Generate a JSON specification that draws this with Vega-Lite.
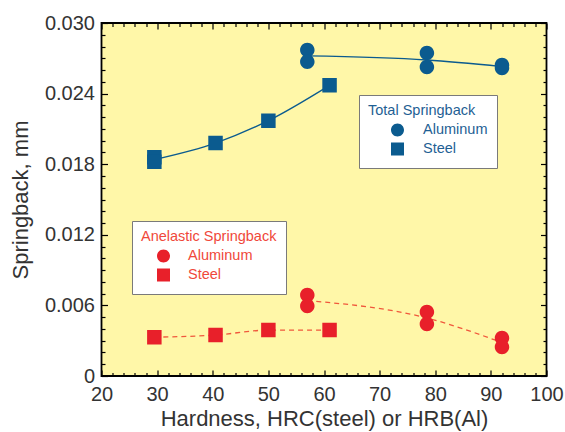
{
  "$schema": "https://vega.github.io/schema/vega-lite/v6.json",
  "width": 445,
  "height": 353,
  "autosize": {"type": "none"},
  "padding": {"left": 101.5, "top": 23, "right": 18.5, "bottom": 56},
  "background": "white",
  "config": {
    "font": "Liberation Sans",
    "view": {"fill": "#FFF7A8", "stroke": "black", "strokeWidth": 1.8},
    "axis": {
      "domain": false,
      "grid": false,
      "labelFont": "Liberation Sans",
      "labelFontSize": 20,
      "labelColor": "#333333",
      "titleFont": "Liberation Sans",
      "titleFontSize": 22,
      "titleFontWeight": "normal",
      "titleColor": "#333333",
      "tickColor": "black",
      "tickWidth": 1.2,
      "labelOverlap": false,
      "labelFlush": false
    }
  },
  "data": {
    "values": [
      {"type": "Total", "material": "Steel", "hardness": 29.5, "springback": 0.0186},
      {"type": "Total", "material": "Steel", "hardness": 29.5, "springback": 0.0182},
      {"type": "Total", "material": "Steel", "hardness": 40.5, "springback": 0.0198},
      {"type": "Total", "material": "Steel", "hardness": 50, "springback": 0.0217},
      {"type": "Total", "material": "Steel", "hardness": 61, "springback": 0.0247},
      {"type": "Total", "material": "Aluminum", "hardness": 57, "springback": 0.0277},
      {"type": "Total", "material": "Aluminum", "hardness": 57, "springback": 0.0267},
      {"type": "Total", "material": "Aluminum", "hardness": 78.5, "springback": 0.02745},
      {"type": "Total", "material": "Aluminum", "hardness": 78.5, "springback": 0.02626},
      {"type": "Total", "material": "Aluminum", "hardness": 92, "springback": 0.02643},
      {"type": "Total", "material": "Aluminum", "hardness": 92, "springback": 0.02617},
      {"type": "Anelastic", "material": "Steel", "hardness": 29.5, "springback": 0.0033},
      {"type": "Anelastic", "material": "Steel", "hardness": 40.5, "springback": 0.00348},
      {"type": "Anelastic", "material": "Steel", "hardness": 50, "springback": 0.0039},
      {"type": "Anelastic", "material": "Steel", "hardness": 61, "springback": 0.0039},
      {"type": "Anelastic", "material": "Aluminum", "hardness": 57, "springback": 0.00688},
      {"type": "Anelastic", "material": "Aluminum", "hardness": 57, "springback": 0.00595},
      {"type": "Anelastic", "material": "Aluminum", "hardness": 78.5, "springback": 0.00544},
      {"type": "Anelastic", "material": "Aluminum", "hardness": 78.5, "springback": 0.00442},
      {"type": "Anelastic", "material": "Aluminum", "hardness": 92, "springback": 0.00323},
      {"type": "Anelastic", "material": "Aluminum", "hardness": 92, "springback": 0.00246}
    ]
  },
  "layer": [
    {
      "transform": [{"filter": "datum.type === 'Total'"}],
      "mark": {"type": "line", "color": "#0b5b8f", "strokeWidth": 1.3, "interpolate": "monotone"},
      "encoding": {
        "x": {
          "field": "hardness", "type": "quantitative",
          "scale": {"domain": [20, 100], "nice": false, "zero": false},
          "axis": {
            "orient": "bottom",
            "values": [20,22,24,26,28,30,32,34,36,38,40,42,44,46,48,50,52,54,56,58,60,62,64,66,68,70,72,74,76,78,80,82,84,86,88,90,92,94,96,98,100],
            "format": "d",
            "labelExpr": "datum.value % 10 === 0 ? datum.label : ''",
            "tickSize": {"condition": {"test": "datum.value % 10 === 0", "value": -6}, "value": -3.5},
            "labelPadding": 14,
            "title": "Hardness, HRC(steel) or HRB(Al)",
            "titlePadding": 2
          }
        },
        "y": {
          "aggregate": "mean", "field": "springback", "type": "quantitative",
          "scale": {"domain": [0, 0.03], "nice": false},
          "axis": {
            "orient": "left",
            "values": [0,0.001,0.002,0.003,0.004,0.005,0.006,0.007,0.008,0.009,0.01,0.011,0.012,0.013,0.014,0.015,0.016,0.017,0.018,0.019,0.02,0.021,0.022,0.023,0.024,0.025,0.026,0.027,0.028,0.029,0.03],
            "labelExpr": "round(datum.value*1000) % 6 === 0 ? (datum.value === 0 ? '0' : format(datum.value, '.3f')) : ''",
            "tickSize": {"condition": {"test": "round(datum.value*1000) % 6 === 0", "value": -6}, "value": -3.5},
            "labelPadding": 13,
            "title": "Springback, mm",
            "titlePadding": 12
          }
        },
        "detail": {"field": "material", "type": "nominal"}
      }
    },
    {
      "transform": [{"filter": "datum.type === 'Total'"}],
      "mark": {"type": "point", "filled": true, "opacity": 1, "color": "#0b5b8f", "size": 210},
      "encoding": {
        "x": {
          "field": "hardness", "type": "quantitative",
          "axis": {
            "orient": "top",
            "values": [20,22,24,26,28,30,32,34,36,38,40,42,44,46,48,50,52,54,56,58,60,62,64,66,68,70,72,74,76,78,80,82,84,86,88,90,92,94,96,98,100],
            "labels": false,
            "tickSize": {"condition": {"test": "datum.value % 10 === 0", "value": -6}, "value": -3.5},
            "title": null
          }
        },
        "y": {
          "field": "springback", "type": "quantitative",
          "axis": {
            "orient": "right",
            "values": [0,0.001,0.002,0.003,0.004,0.005,0.006,0.007,0.008,0.009,0.01,0.011,0.012,0.013,0.014,0.015,0.016,0.017,0.018,0.019,0.02,0.021,0.022,0.023,0.024,0.025,0.026,0.027,0.028,0.029,0.03],
            "labels": false,
            "tickSize": {"condition": {"test": "round(datum.value*1000) % 6 === 0", "value": -6}, "value": -3.5},
            "title": null
          }
        },
        "shape": {
          "field": "material", "type": "nominal",
          "scale": {"domain": ["Aluminum", "Steel"], "range": ["M-3.2,0H3.2M1,0A1,1,0,1,1,-1,0A1,1,0,1,1,1,0Z", "M-3.2,0H3.2M-1,-1H1V1H-1Z"]},
          "legend": {
            "title": "Total Springback",
            "orient": "none", "legendX": 257.5, "legendY": 72,
            "padding": 9, "fillColor": "white", "strokeColor": "#7a7a7a",
            "titleFont": "Liberation Sans", "titleFontSize": 14.5, "titleFontWeight": "normal", "titleColor": "#1f5f94", "titlePadding": 4,
            "labelFont": "Liberation Sans", "labelFontSize": 14.5, "labelColor": "#1f5f94", "labelOffset": 18,
            "labelExpr": "datum.label + '\u00a0\u00a0\u00a0\u00a0'",
            "symbolSize": 169, "symbolOffset": 22, "rowPadding": 0,
            "symbolFillColor": "#0b5b8f", "symbolStrokeColor": "#0b5b8f", "symbolStrokeWidth": 1.4, "symbolOpacity": 1
          }
        }
      }
    },
    {
      "transform": [{"filter": "datum.type === 'Anelastic'"}],
      "mark": {"type": "line", "color": "#f0583c", "strokeWidth": 1.3, "strokeDash": [5, 4], "interpolate": "monotone"},
      "encoding": {
        "x": {"field": "hardness", "type": "quantitative", "axis": null},
        "y": {"aggregate": "mean", "field": "springback", "type": "quantitative", "axis": null},
        "detail": {"field": "material", "type": "nominal"}
      }
    },
    {
      "transform": [{"filter": "datum.type === 'Anelastic'"}],
      "mark": {"type": "point", "filled": true, "opacity": 1, "color": "#e8202a", "size": 210},
      "encoding": {
        "x": {"field": "hardness", "type": "quantitative", "axis": null},
        "y": {"field": "springback", "type": "quantitative", "axis": null},
        "shape": {
          "field": "material", "type": "nominal",
          "scale": {"domain": ["Aluminum", "Steel"], "range": ["M-3.2,0H-2.45M-2,0H-1.25M-0.8,0H0.8M1.25,0H2M2.45,0H3.2M1,0A1,1,0,1,1,-1,0A1,1,0,1,1,1,0Z", "M-3.2,0H-2.45M-2,0H-1.25M-0.8,0H0.8M1.25,0H2M2.45,0H3.2M-1,-1H1V1H-1Z"]},
          "legend": {
            "title": "Anelastic Springback",
            "orient": "none", "legendX": 30.5, "legendY": 198,
            "padding": 9, "fillColor": "white", "strokeColor": "#7a7a7a",
            "titleFont": "Liberation Sans", "titleFontSize": 14.5, "titleFontWeight": "normal", "titleColor": "#f0483a", "titlePadding": 4,
            "labelFont": "Liberation Sans", "labelFontSize": 14.5, "labelColor": "#f0483a", "labelOffset": 17,
            "symbolSize": 169, "symbolOffset": 15, "rowPadding": 0,
            "symbolFillColor": "#e8202a", "symbolStrokeColor": "#f0583c", "symbolStrokeWidth": 1.4, "symbolOpacity": 1
          }
        }
      }
    }
  ],
  "resolve": {
    "scale": {"shape": "independent"},
    "legend": {"shape": "independent"},
    "axis": {"x": "independent", "y": "independent"}
  }
}
